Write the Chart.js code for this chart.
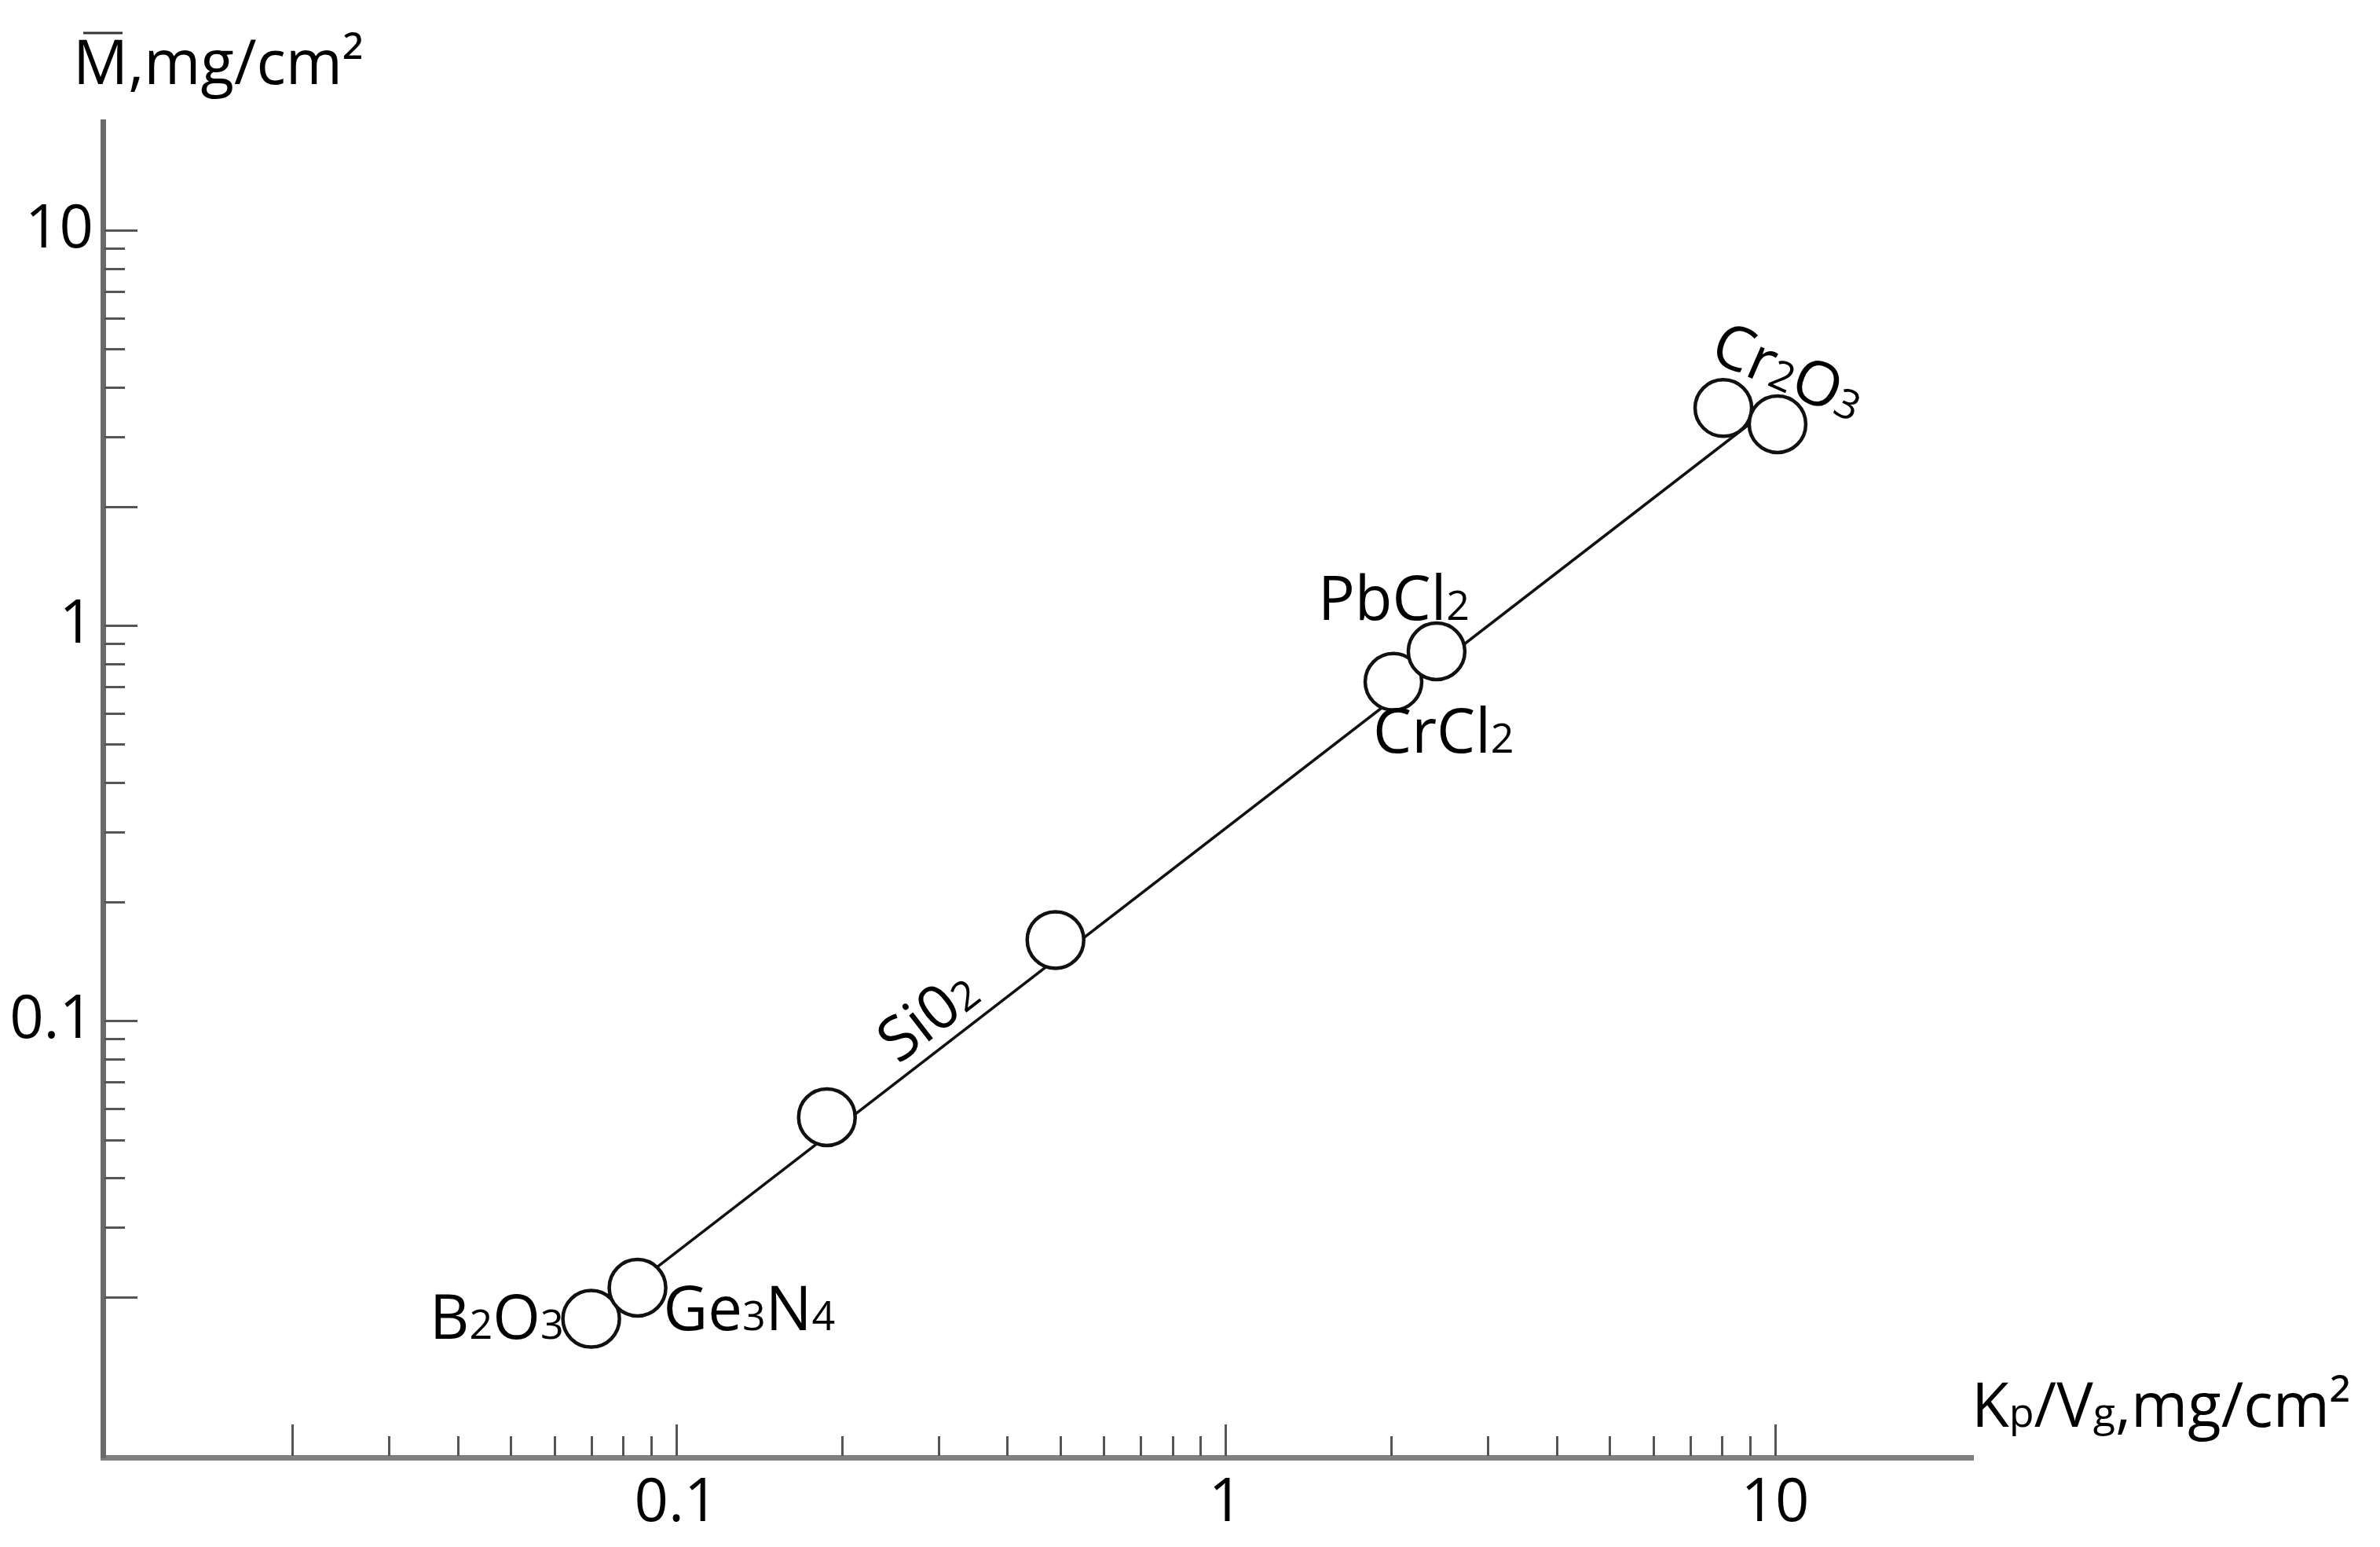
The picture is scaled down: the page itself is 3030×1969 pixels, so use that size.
<!DOCTYPE html>
<html>
<head>
<meta charset="utf-8">
<script src="https://cdn.jsdelivr.net/npm/chart.js@4.4.1/dist/chart.umd.min.js"></script>
<style>
  html, body { margin: 0; padding: 0; background: #fff; }
  #chart { display: block; }
</style>
</head>
<body>
<canvas id="chart" width="3030" height="1969"></canvas>
<script>
// measured points: Kp/Vg (x) against mean mass gain M (y)
const kpVg     = [0.070, 0.085, 0.188, 0.49, 2.02, 2.42, 8.05, 10.1];
const massGain = [0.0176, 0.0211, 0.057, 0.16, 0.72, 0.86, 3.55, 3.23];

// straight line drawn through the points
const fitKpVg = [0.0854, 9.36];
const fitMass = [0.0219, 3.38];

// axis ranges
const xRange = [0.009045, 22.93];
const yRange = [0.00785, 18.81];

// labelled ticks
const xLabelTicks = [0.1, 1, 10];
const yLabelTicks = [0.1, 1, 10];

// inward tick marks
const xMarks = [0.02, 0.03, 0.04, 0.05, 0.06, 0.07, 0.08, 0.09, 0.1,
                0.2, 0.3, 0.4, 0.5, 0.6, 0.7, 0.8, 0.9, 1,
                2, 3, 4, 5, 6, 7, 8, 9, 10];
const yMarks = [0.02, 0.03, 0.04, 0.05, 0.06, 0.07, 0.08, 0.09, 0.1,
                0.2, 0.3, 0.4, 0.5, 0.6, 0.7, 0.8, 0.9, 1,
                2, 3, 4, 5, 6, 7, 8, 9, 10];
const xLongMarks = [0.02, 0.1, 1, 10];
const yLongMarks = [0.02, 0.1, 1, 2, 10];

// compound names, [text, isSubscript]
const compoundLabels = [
  [['B'], ['2', 1], ['O'], ['3', 1]],
  [['Ge'], ['3', 1], ['N'], ['4', 1]],
  [['Si0'], ['2', 1]],
  [['CrCl'], ['2', 1]],
  [['PbCl'], ['2', 1]],
  [['Cr'], ['2', 1], ['O'], ['3', 1]]
];
const yTitle = [['M'], [',mg/cm²']];
const xTitle = [['K'], ['p', 1], ['/V'], ['g', 1], [',mg/cm²']];

// where each name sits, relative to the point it belongs to
const labelPlacement = [
  { point: 0, dx: -35, dy: 25, align: 'right', rot: 0 },
  { point: 1, dx: 33, dy: 54, align: 'left', rot: 0 },
  { point: 2, dx: 145, dy: -108, align: 'center', rot: -0.656 },
  { point: 4, dx: -26, dy: 90, align: 'left', rot: 0 },
  { point: 5, dx: -151, dy: -40, align: 'left', rot: 0 },
  { point: 6, dx: -20, dy: -62, align: 'left', rot: 0.41 }
];

const FONT = "'Open Sans', 'Noto Sans', sans-serif";
const TEXT_SIZE = 78;
const SUB_SIZE = 52;

function drawRich(ctx, parts, x, y, align) {
  let total = 0;
  const widths = parts.map(p => {
    ctx.font = `${p[1] ? SUB_SIZE : TEXT_SIZE}px ${FONT}`;
    const w = ctx.measureText(p[0]).width;
    total += w;
    return w;
  });
  let cx = x;
  if (align === 'right') cx = x - total;
  if (align === 'center') cx = x - total / 2;
  ctx.textAlign = 'left';
  ctx.textBaseline = 'alphabetic';
  parts.forEach((p, i) => {
    ctx.font = `${p[1] ? SUB_SIZE : TEXT_SIZE}px ${FONT}`;
    ctx.fillText(p[0], cx, y);
    cx += widths[i];
  });
}

const decorations = {
  id: 'decorations',
  afterDraw(chart) {
    const ctx = chart.ctx;
    const xs = chart.scales.x;
    const ys = chart.scales.y;
    const area = chart.chartArea;

    ctx.save();
    ctx.strokeStyle = '#555';
    ctx.lineWidth = 3;
    xMarks.forEach(v => {
      const px = Math.round(xs.getPixelForValue(v)) + 0.5;
      const len = xLongMarks.includes(v) ? 42 : 27;
      ctx.beginPath();
      ctx.moveTo(px, area.bottom - 2);
      ctx.lineTo(px, area.bottom - len);
      ctx.stroke();
    });
    yMarks.forEach(v => {
      const py = Math.round(ys.getPixelForValue(v)) + 0.5;
      const len = yLongMarks.includes(v) ? 44 : 28;
      ctx.beginPath();
      ctx.moveTo(area.left + 2, py);
      ctx.lineTo(area.left + len, py);
      ctx.stroke();
    });

    ctx.fillStyle = '#000';
    const meta = chart.getDatasetMeta(1);
    labelPlacement.forEach((lp, i) => {
      const pt = meta.data[lp.point];
      ctx.save();
      ctx.translate(pt.x + lp.dx, pt.y + lp.dy);
      ctx.rotate(lp.rot);
      drawRich(ctx, compoundLabels[i], 0, 0, lp.align);
      ctx.restore();
    });

    // axis titles
    drawRich(ctx, yTitle, 93, 107, 'left');
    ctx.strokeStyle = '#333';
    ctx.lineWidth = 3;
    ctx.beginPath();
    ctx.moveTo(106, 42);
    ctx.lineTo(156, 42);
    ctx.stroke();
    drawRich(ctx, xTitle, 2510, 1816, 'left');
    ctx.restore();
  }
};

new Chart(document.getElementById('chart'), {
  type: 'scatter',
  data: {
    datasets: [
      {
        type: 'line',
        data: fitKpVg.map((x, i) => ({ x: x, y: fitMass[i] })),
        borderColor: '#111',
        borderWidth: 3.5,
        pointRadius: 0,
        fill: false,
        order: 2
      },
      {
        data: kpVg.map((x, i) => ({ x: x, y: massGain[i] })),
        pointRadius: 36,
        pointBorderWidth: 4.5,
        pointBorderColor: '#111',
        pointBackgroundColor: '#fff',
        order: 1
      }
    ]
  },
  options: {
    responsive: false,
    devicePixelRatio: 1,
    animation: false,
    layout: { padding: { top: 155, right: 518, left: 0, bottom: 0 } },
    plugins: {
      legend: { display: false },
      tooltip: { enabled: false }
    },
    scales: {
      x: {
        type: 'logarithmic',
        position: 'bottom',
        min: xRange[0],
        max: xRange[1],
        afterBuildTicks: s => { s.ticks = xLabelTicks.map(v => ({ value: v })); },
        afterFit: s => { s.height = 114; },
        grid: { display: false, drawTicks: false },
        border: { display: true, color: '#808080', width: 7 },
        ticks: {
          autoSkip: false,
          maxRotation: 0,
          padding: 14,
          color: '#000',
          font: { family: FONT, size: 76 },
          callback: v => String(v)
        }
      },
      y: {
        type: 'logarithmic',
        position: 'left',
        min: yRange[0],
        max: yRange[1],
        afterBuildTicks: s => { s.ticks = yLabelTicks.map(v => ({ value: v })); },
        afterFit: s => { s.width = 131; },
        grid: { display: false, drawTicks: false },
        border: { display: true, color: '#6a6a6a', width: 7 },
        ticks: {
          autoSkip: false,
          padding: 12,
          color: '#000',
          font: { family: FONT, size: 76 },
          callback: v => String(v)
        }
      }
    }
  },
  plugins: [decorations]
});
</script>
</body>
</html>
